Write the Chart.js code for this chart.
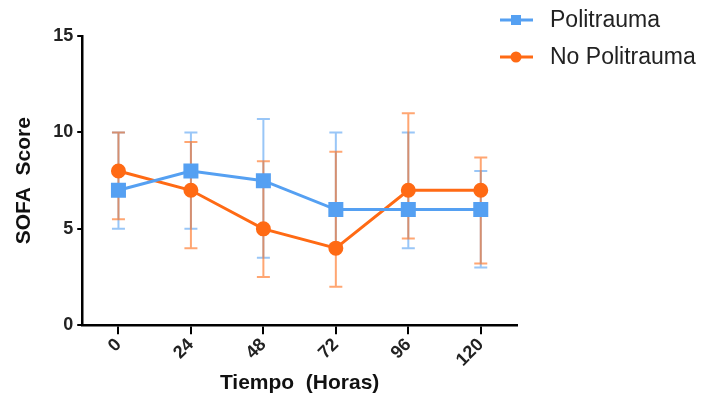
<!DOCTYPE html>
<html>
<head>
<meta charset="utf-8">
<script src="https://cdn.jsdelivr.net/npm/chart.js@4"></script>
<style>
  html, body { margin: 0; padding: 0; background: #fff; }
  #wrap { width: 707px; height: 398px; }
</style>
</head>
<body>
<div id="wrap"><canvas id="sofa-chart" width="707" height="398"></canvas></div>
<script>
// DATA
const horas = ['0', '24', '48', '72', '96', '120'];

const politrauma = [7, 8, 7.5, 6, 6, 6];
const politraumaLow = [5, 5, 3.5, 4.2, 4, 3];
const politraumaHigh = [10, 10, 10.7, 10, 10, 8];

const noPolitrauma = [8, 7, 5, 4, 7, 7];
const noPolitraumaLow = [5.5, 4, 2.5, 2, 4.5, 3.2];
const noPolitraumaHigh = [10, 9.5, 8.5, 9, 11, 8.7];

const yTicks = [0, 5, 10, 15];

const BLUE = '#55a0f2';
const ORANGE = '#ff6a14';
const FONT = 'Arial, "Liberation Sans", sans-serif';

// ERROR BARS (drawn behind the markers)
const errorBars = {
    id: 'errorBars',
    beforeDatasetsDraw(chart) {
        const ctx = chart.ctx;
        const y = chart.scales.y;
        chart.data.datasets.forEach((ds, i) => {
            const meta = chart.getDatasetMeta(i);
            ctx.save();
            ctx.strokeStyle = ds.errorColor;
            ctx.lineWidth = 2;
            meta.data.forEach((pt, j) => {
                const top = y.getPixelForValue(ds.high[j]);
                const bot = y.getPixelForValue(ds.low[j]);
                const cap = 6.5;
                ctx.beginPath();
                ctx.moveTo(pt.x, top);
                ctx.lineTo(pt.x, bot);
                ctx.moveTo(pt.x - cap, top);
                ctx.lineTo(pt.x + cap, top);
                ctx.moveTo(pt.x - cap, bot);
                ctx.lineTo(pt.x + cap, bot);
                ctx.stroke();
            });
            ctx.restore();
        });
    }
};

// LEGEND WITH LINE + MARKER
const lineLegend = {
    id: 'lineLegend',
    afterDraw(chart) {
        const ctx = chart.ctx;
        ctx.save();
        chart.data.datasets.forEach((ds, i) => {
            const cy = 20 + i * 37;
            const x0 = 500, x1 = 533, cx = 516;
            ctx.strokeStyle = ds.borderColor;
            ctx.lineWidth = 3;
            ctx.beginPath();
            ctx.moveTo(x0, cy);
            ctx.lineTo(x1, cy);
            ctx.stroke();
            ctx.fillStyle = ds.borderColor;
            if (ds.pointStyle === 'rect') {
                ctx.fillRect(cx - 5, cy - 5, 10, 10);
            } else {
                ctx.beginPath();
                ctx.arc(cx, cy, 5.5, 0, Math.PI * 2);
                ctx.fill();
            }
            ctx.fillStyle = '#222';
            ctx.font = '23px ' + FONT;
            ctx.textBaseline = 'middle';
            ctx.fillText(ds.label, 550, cy + 1);
        });
        ctx.restore();
    }
};

const sofaChart = new Chart(document.getElementById('sofa-chart').getContext('2d'), {
    type: 'line',
    data: {
        labels: horas,
        datasets: [{
            label: 'Politrauma',
            data: politrauma,
            low: politraumaLow,
            high: politraumaHigh,
            borderColor: BLUE,
            backgroundColor: BLUE,
            errorColor: 'rgba(85,160,242,0.6)',
            borderWidth: 3,
            pointStyle: 'rect',
            pointRadius: 8.5,
            pointHoverRadius: 8.5,
            tension: 0
        }, {
            label: 'No Politrauma',
            data: noPolitrauma,
            low: noPolitraumaLow,
            high: noPolitraumaHigh,
            borderColor: ORANGE,
            backgroundColor: ORANGE,
            errorColor: 'rgba(255,106,20,0.6)',
            borderWidth: 3,
            pointStyle: 'circle',
            pointRadius: 6,
            pointHoverRadius: 6,
            tension: 0
        }]
    },
    options: {
        responsive: false,
        animation: false,
        layout: { padding: { top: 36, right: 190, left: 12, bottom: 2 } },
        plugins: {
            legend: { display: false },
            tooltip: { enabled: false }
        },
        scales: {
            x: {
                offset: true,
                grid: {
                    display: true,
                    drawOnChartArea: false,
                    drawTicks: true,
                    tickLength: 9,
                    color: '#000',
                    lineWidth: 2
                },
                border: { color: '#000', width: 2.5 },
                ticks: {
                    color: '#222',
                    font: { family: FONT, size: 18, weight: 'bold' },
                    maxRotation: 45,
                    minRotation: 45,
                    padding: 0
                },
                title: {
                    display: true,
                    text: 'Tiempo  (Horas)',
                    color: '#111',
                    font: { family: FONT, size: 21, weight: 'bold' },
                    padding: { top: 0, bottom: 0 }
                }
            },
            y: {
                min: 0,
                max: 15,
                afterBuildTicks(axis) {
                    axis.ticks = yTicks.map(v => ({ value: v }));
                },
                grid: {
                    display: true,
                    drawOnChartArea: false,
                    drawTicks: true,
                    tickLength: 5,
                    color: '#000',
                    lineWidth: 2
                },
                border: { color: '#000', width: 2.5 },
                ticks: {
                    color: '#222',
                    font: { family: FONT, size: 18, weight: 'bold' },
                    padding: 4
                },
                title: {
                    display: true,
                    text: 'SOFA  Score',
                    color: '#111',
                    font: { family: FONT, size: 21, weight: 'bold' },
                    padding: { top: 0, bottom: 12 }
                }
            }
        }
    },
    plugins: [errorBars, lineLegend]
});
</script>
</body>
</html>
